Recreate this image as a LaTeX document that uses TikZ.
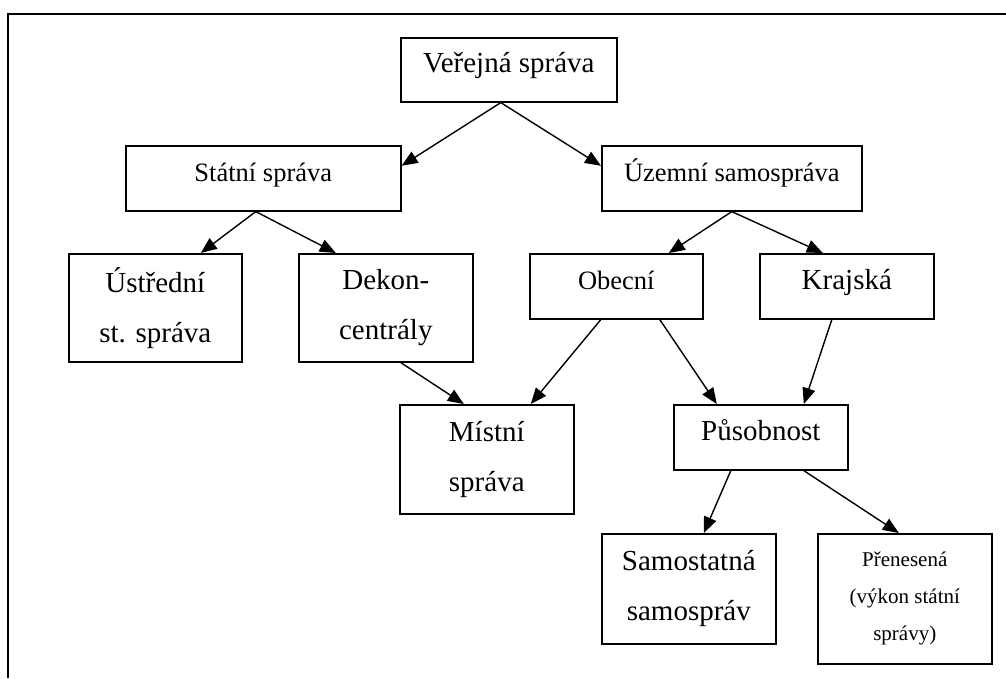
\documentclass[tikz,border=0pt]{standalone}
\usepackage{fontspec}
\setmainfont{Liberation Serif}
\usetikzlibrary{arrows.meta, calc}

\begin{document}
\begin{tikzpicture}[x=1pt, y=-1pt,
    box/.style={rectangle, draw, line width=1.6pt, inner sep=0pt, align=center, anchor=north west, font=\fontsize{29}{50}\selectfont},
    midbox/.style={box, font=\fontsize{26.5}{46}\selectfont},
    smallbox/.style={box, font=\fontsize{21}{37}\selectfont},
    oneline/.style={text height=21pt, text depth=15pt},
    arrow/.style={-{Triangle[length=16pt, width=13pt]}, line width=1.4pt}
]

\useasboundingbox (0,0) rectangle (1006,678);

%%%%%%%%%%%%%%%%%%%%%%%%%%%%%%%%%%%%%%%%%%%%%%%%%%%%%%%%%%%%%%%%%%%
% Frame
%%%%%%%%%%%%%%%%%%%%%%%%%%%%%%%%%%%%%%%%%%%%%%%%%%%%%%%%%%%%%%%%%%%
\draw[line width=1.6pt] (8,678) -- (8,14) -- (1006,14);

%%%%%%%%%%%%%%%%%%%%%%%%%%%%%%%%%%%%%%%%%%%%%%%%%%%%%%%%%%%%%%%%%%%
% Top levels
%%%%%%%%%%%%%%%%%%%%%%%%%%%%%%%%%%%%%%%%%%%%%%%%%%%%%%%%%%%%%%%%%%%
\node[box, oneline, minimum width=216, minimum height=64] (verejna) at (400,37) {Veřejná správa};

\node[midbox, oneline, minimum width=275, minimum height=65] (statni) at (125,145) {Státní správa};
\node[midbox, oneline, minimum width=260, minimum height=65] (uzemni) at (601,145) {Územní samospráva};

%%%%%%%%%%%%%%%%%%%%%%%%%%%%%%%%%%%%%%%%%%%%%%%%%%%%%%%%%%%%%%%%%%%
% State administration (left)
%%%%%%%%%%%%%%%%%%%%%%%%%%%%%%%%%%%%%%%%%%%%%%%%%%%%%%%%%%%%%%%%%%%
\node[box, minimum width=173, minimum height=108] (ustredni) at (68,253) {Ústřední\\st. správa};
\node[box, minimum width=174, minimum height=108] (dekon) at (298,253) {Dekon-\\centrály};

\node[box, minimum width=174, minimum height=109] (mistni) at (399,404) {Místní\\správa};

%%%%%%%%%%%%%%%%%%%%%%%%%%%%%%%%%%%%%%%%%%%%%%%%%%%%%%%%%%%%%%%%%%%
% Self-government (right)
%%%%%%%%%%%%%%%%%%%%%%%%%%%%%%%%%%%%%%%%%%%%%%%%%%%%%%%%%%%%%%%%%%%
\node[midbox, oneline, minimum width=173, minimum height=65] (obecni) at (529,253) {Obecní};
\node[box, oneline, minimum width=174, minimum height=65] (krajska) at (759,253) {Krajská};

\node[box, oneline, minimum width=174, minimum height=65] (pusobnost) at (673,404) {Působnost};

\node[box, minimum width=174, minimum height=110] (samostatna) at (601,533) {Samostatná\\samospráv};
\node[smallbox, minimum width=174, minimum height=130] (prenesena) at (817,533) {Přenesená\\(výkon státní\\správy)};

%%%%%%%%%%%%%%%%%%%%%%%%%%%%%%%%%%%%%%%%%%%%%%%%%%%%%%%%%%%%%%%%%%%
% Connections
%%%%%%%%%%%%%%%%%%%%%%%%%%%%%%%%%%%%%%%%%%%%%%%%%%%%%%%%%%%%%%%%%%%
\draw[arrow] ([xshift=-8pt]verejna.south) -- ([yshift=12.5pt]statni.east);
\draw[arrow] ([xshift=-8pt]verejna.south) -- ([yshift=12.5pt]uzemni.west);

\draw[arrow] ([xshift=-7.5pt]statni.south) -- ([xshift=45.5pt]ustredni.north);
\draw[arrow] ([xshift=-7.5pt]statni.south) -- ([xshift=-50pt]dekon.north);

\draw[arrow] (uzemni.south) -- ([xshift=52.5pt]obecni.north);
\draw[arrow] (uzemni.south) -- ([xshift=-24pt]krajska.north);

\draw[arrow] ([xshift=15pt]dekon.south) -- ([xshift=-23pt]mistni.north);
\draw[arrow] ([xshift=-15.5pt]obecni.south) -- ([xshift=44pt]mistni.north);
\draw[arrow] ([xshift=43.5pt]obecni.south) -- ([xshift=-44pt]pusobnost.north);
\draw[arrow] ([xshift=-15pt]krajska.south) -- ([xshift=43pt]pusobnost.north);

\draw[arrow] ([xshift=-30pt]pusobnost.south) -- ([xshift=15pt]samostatna.north);
\draw[arrow] ([xshift=43pt]pusobnost.south) -- ([xshift=-6pt]prenesena.north);

\end{tikzpicture}
\end{document}
